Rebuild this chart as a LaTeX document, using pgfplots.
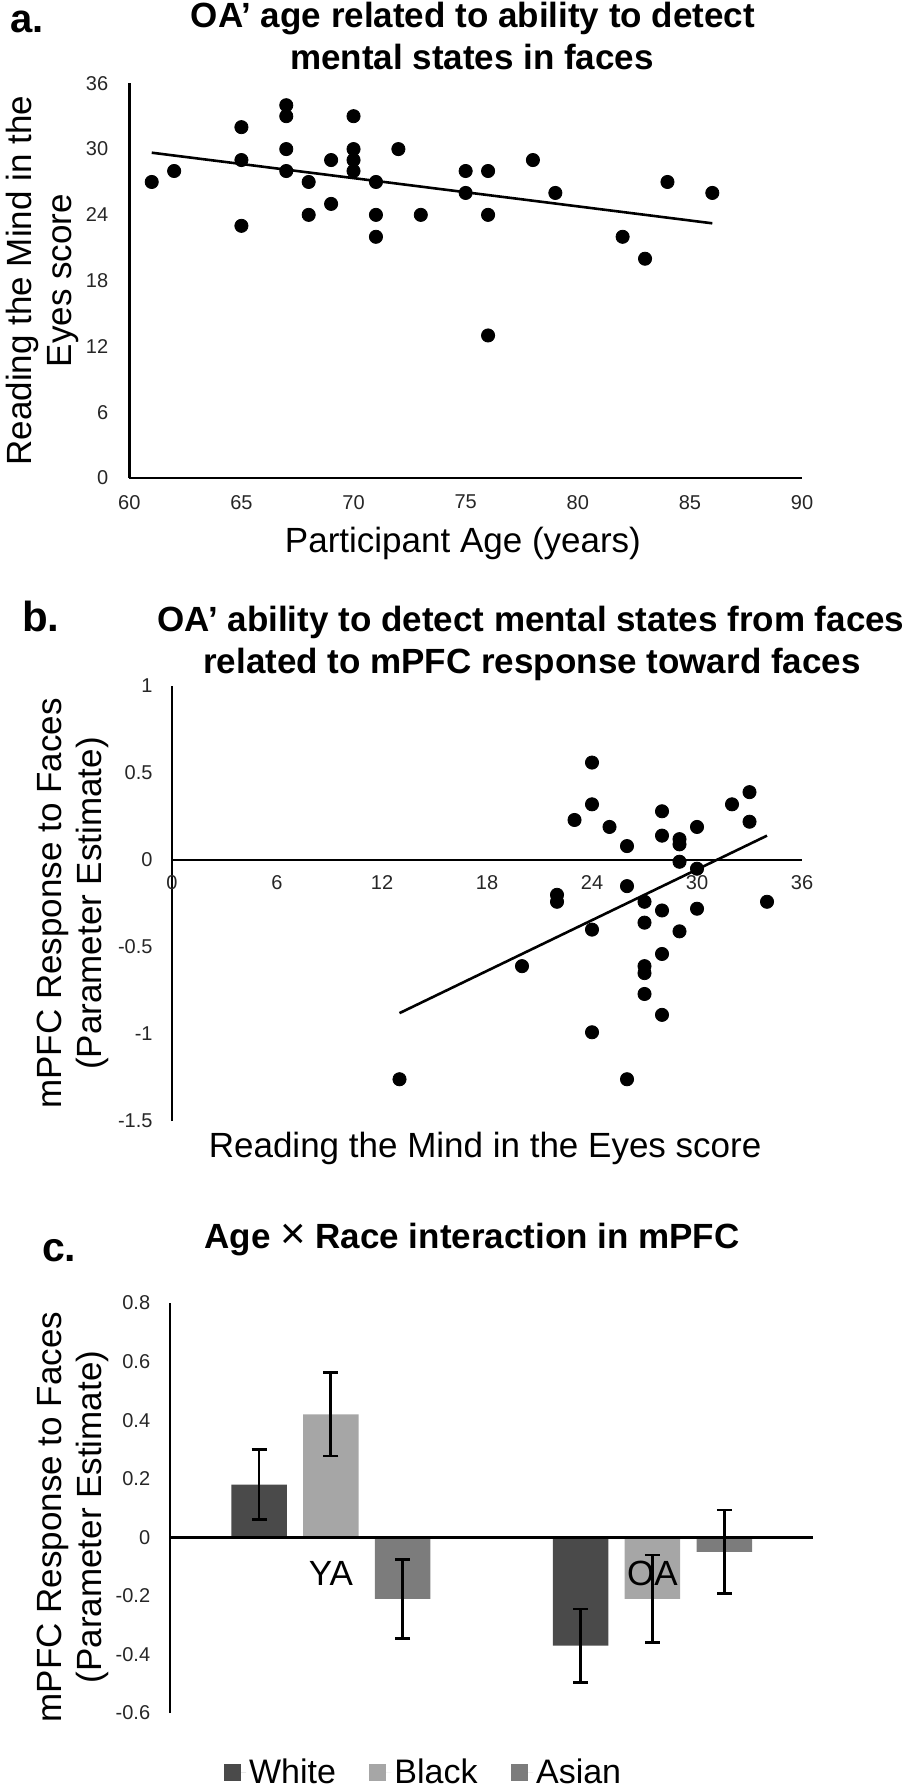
\documentclass[border=0pt]{standalone}
\usepackage{fontspec}
\setmainfont{Liberation Sans}
\usepackage{pgfplots}
\pgfplotsset{compat=1.18}
\definecolor{cWhite}{HTML}{4A4A4A}
\definecolor{cBlack}{HTML}{A6A6A6}
\definecolor{cAsian}{HTML}{7C7C7C}
\pgfplotsset{
  common/.style={
    scale only axis,
    /pgf/number format/assume math mode=true,
    tick label style={font=\fontsize{10}{12}\selectfont, color=black!85},
    label style={font=\fontsize{17.5}{20}\selectfont, align=center},
    major tick length=0pt,
    tick style={draw=none},
    clip=false,
  },
  noarrows/.style={
    axis line style={line width=1.3pt, -},
    every inner x axis line/.append style={-},
    every outer x axis line/.append style={-},
    every inner y axis line/.append style={-},
    every outer y axis line/.append style={-},
  },
  ebar/.style={
    error bars/.cd, y dir=both, y explicit,
    error bar style={line width=1.35pt, draw=black},
    error mark options={rotate=90, line width=1.35pt, mark size=3.75pt, draw=black},
  },
}
\begin{document}
\begin{tikzpicture}
\useasboundingbox (0,0) rectangle (454pt,-895.5pt);

% ---------- panel a ----------
\node[anchor=base west, font=\fontsize{20}{24}\selectfont\bfseries] at (1.5pt,-16.5pt) {a.};
\node[anchor=base, font=\fontsize{17.5}{21}\selectfont\bfseries] at (236.5pt,-14pt) {OA’ age related to ability to detect};
\node[anchor=base, font=\fontsize{17.5}{21}\selectfont\bfseries] at (236pt,-35pt) {mental states in faces};
\begin{axis}[common,
  at={(64.65pt,-239pt)}, anchor=south west, width=336.35pt, height=197.35pt,
  xmin=60, xmax=90, ymin=0, ymax=36,
  xtick={60,65,...,90}, ytick={0,6,...,36},
  axis x line*=bottom, axis y line*=left,
  xticklabel style={yshift=-5pt}, yticklabel style={xshift=-7pt},
  xlabel={Participant Age (years)},
  xlabel style={at={(axis description cs:0.496,-0.19)}, anchor=base, font=\fontsize{17.5}{20}\selectfont},
  ylabel={Reading the Mind in the\\Eyes score},
  ylabel style={at={(axis description cs:-0.129,0.5)}, anchor=center, font=\fontsize{17.5}{20}\selectfont},
  noarrows,
]
\addplot[only marks, mark=*, mark size=3.3pt, black] coordinates {
(61,27) (62,28) (65,32) (65,29) (65,23) (67,34) (67,33) (67,30) (67,28)
(68,27) (68,24) (69,29) (69,25) (70,33) (70,30) (70,29) (70,28) (71,27)
(71,24) (71,22) (72,30) (73,24) (75,28) (75,26) (76,28) (76,24) (76,13)
(78,29) (79,26) (82,22) (83,20) (84,27) (86,26)};
\addplot[no marks, line width=1.3pt, black] coordinates {(61,29.67) (86,23.23)};
\end{axis}

% ---------- panel b ----------
\node[anchor=base west, font=\fontsize{21}{25}\selectfont\bfseries] at (7.5pt,-315.5pt) {b.};
\node[anchor=base, font=\fontsize{17.5}{21}\selectfont\bfseries] at (265.5pt,-315.6pt) {OA’ ability to detect mental states from faces};
\node[anchor=base, font=\fontsize{17.5}{21}\selectfont\bfseries] at (266pt,-336.5pt) {related to mPFC response toward faces};
\begin{axis}[common,
  at={(86pt,-560.5pt)}, anchor=south west, width=315pt, height=217.5pt,
  xmin=0, xmax=36, ymin=-1.5, ymax=1,
  xtick={0,6,...,36}, ytick={-1.5,-1,-0.5,0,0.5,1},
  axis x line=middle, axis y line=left,
  hide obscured x ticks=false, hide obscured y ticks=false,
  xticklabel style={yshift=-4.3pt}, yticklabel style={xshift=-6.2pt},
  xlabel={Reading the Mind in the Eyes score},
  xlabel style={at={(axis description cs:0.497,-0.0844)}, anchor=base, font=\fontsize{17.5}{20}\selectfont},
  ylabel={mPFC Response to Faces\\(Parameter Estimate)},
  ylabel style={at={(axis description cs:-0.157,0.5)}, anchor=center, font=\fontsize{17.5}{20}\selectfont},
  noarrows,
]
\addplot[only marks, mark=*, mark size=3.3pt, black] coordinates {
(24,0.56) (24,0.32) (23,0.23) (25,0.19) (26,0.08) (28,0.28) (28,0.14)
(29,0.12) (29,0.09) (29,-0.01) (30,0.19) (30,-0.05) (32,0.32) (33,0.39)
(33,0.22) (34,-0.24) (22,-0.20) (22,-0.24) (26,-0.15) (27,-0.24) (28,-0.29)
(30,-0.28) (27,-0.36) (29,-0.41) (24,-0.40) (28,-0.54) (20,-0.61) (27,-0.61)
(27,-0.65) (27,-0.77) (28,-0.89) (24,-0.99) (26,-1.26) (13,-1.26)};
\addplot[no marks, line width=1.3pt, black] coordinates {(13,-0.88) (34,0.14)};
\end{axis}

% ---------- panel c ----------
\node[anchor=base west, font=\fontsize{20.5}{24}\selectfont\bfseries] at (17.5pt,-630.5pt) {c.};
\node[anchor=base, font=\fontsize{17.5}{21}\selectfont\bfseries] at (236pt,-624.2pt) {Age {\mdseries\scalebox{1.25}{×}} Race interaction in mPFC};
\begin{axis}[common,
  at={(85pt,-856.5pt)}, anchor=south west, width=321.65pt, height=205pt,
  xmin=-0.5, xmax=1.5, ymin=-0.6, ymax=0.8,
  xtick={0,1}, xticklabels={YA,OA},
  ytick={-0.6,-0.4,-0.2,0,0.2,0.4,0.6,0.8},
  axis x line=middle, axis y line=left,
  axis on top,
  hide obscured x ticks=false, hide obscured y ticks=false,
  xticklabel style={font=\fontsize{17.5}{20}\selectfont, color=black, yshift=-8.4pt},
  yticklabel style={xshift=-6.4pt},
  ylabel={mPFC Response to Faces\\(Parameter Estimate)},
  ylabel style={at={(axis description cs:-0.151,0.478)}, anchor=center, font=\fontsize{17.5}{20}\selectfont},
  legend columns=3,
  legend cell align=left,
  legend image code/.code={\path (0pt,0pt) -- (11pt,0pt); \fill[#1] (0pt,-4.25pt) rectangle (8.5pt,4.25pt);},
  legend style={draw=none, fill=none, at={(axis description cs:0.395,-0.146)}, anchor=center,
    font=\fontsize{17}{20}\selectfont, inner sep=0pt,
    nodes={inner sep=1.5pt},
    /tikz/every even column/.append style={column sep=15.25pt}},
  noarrows,
]
\addplot[ybar, fill=cWhite, draw=none, bar width=27.75pt, bar shift=0pt, ebar]
  coordinates {(-0.2232,0.18) +- (0,0.12) (0.7768,-0.37) +- (0,0.125)};
\addlegendentry{White}
\addplot[ybar, fill=cBlack, draw=none, bar width=27.75pt, bar shift=0pt, ebar]
  coordinates {(0,0.42) +- (0,0.142) (1,-0.21) +- (0,0.15)};
\addlegendentry{Black}
\addplot[ybar, fill=cAsian, draw=none, bar width=27.75pt, bar shift=0pt, ebar]
  coordinates {(0.2232,-0.21) +- (0,0.135) (1.2232,-0.05) +- (0,0.143)};
\addlegendentry{Asian}
\end{axis}
\end{tikzpicture}
\end{document}
